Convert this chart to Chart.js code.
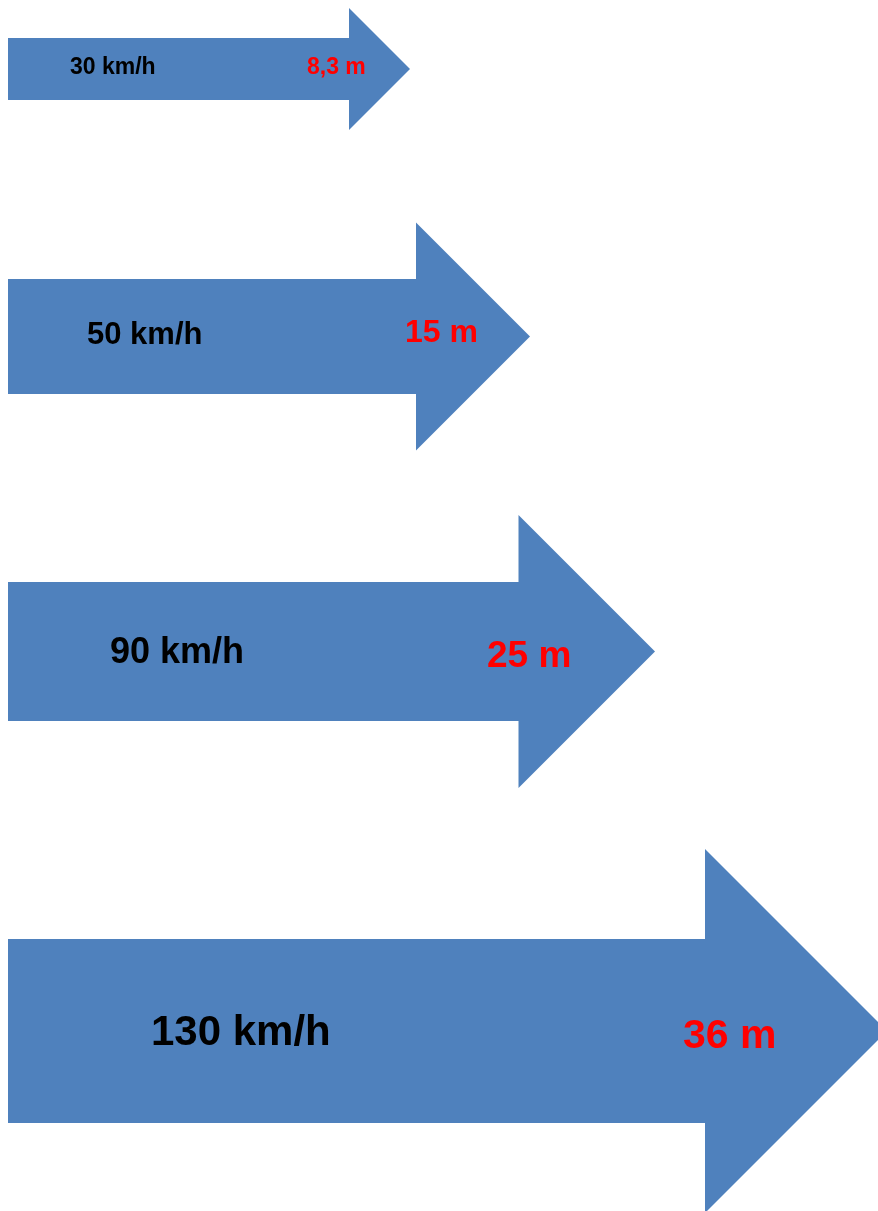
<!DOCTYPE html>
<html>
<head>
<meta charset="utf-8">
<script src="https://cdn.jsdelivr.net/npm/chart.js@4/dist/chart.umd.min.js"></script>
<style>
    body { margin: 0; background: #fff; }
    canvas { display: block; }
</style>
</head>
<body>
<canvas id="arrows" width="878" height="1211"></canvas>
<script>
// speed and stopping distance for each arrow
const speeds = [30, 50, 90, 130];
const distances = [8.3, 15, 25, 36];
// arrow length (arbitrary units)
const arrowLength = [402, 522, 647, 879];

// layout of the rows (y scale units, same as pixels here)
const rowCenter = [69, 336.5, 651.5, 1031];
const shaftHalf = [31, 57.5, 69.5, 92];
const headHalf = [61, 114, 136.5, 182];
const fontSize = [[23, 23], [31, 32], [36, 37], [42, 41]];
const speedTextX = [70, 87, 110, 151];
const distTextX = [307, 405, 487, 683];
const speedBase = [5, 7.5, 11.5, 14];
const distBase = [5, 5.5, 15.5, 17];

const blue = '#4F81BD';

function fmt(n) {
    return String(n).replace('.', ',');
}

const arrowPlugin = {
    id: 'arrowPlugin',
    afterDatasetsDraw(chart) {
        const ctx = chart.ctx;
        const meta = chart.getDatasetMeta(0);
        meta.data.forEach(function (bar, i) {
            const x0 = bar.base;
            const tip = bar.x;
            const yc = bar.y;
            const sh = shaftHalf[i];
            const hh = headHalf[i];
            const hb = tip - hh;

            ctx.save();
            ctx.fillStyle = blue;
            ctx.beginPath();
            ctx.moveTo(x0, yc - sh);
            ctx.lineTo(hb, yc - sh);
            ctx.lineTo(hb, yc - hh);
            ctx.lineTo(tip, yc);
            ctx.lineTo(hb, yc + hh);
            ctx.lineTo(hb, yc + sh);
            ctx.lineTo(x0, yc + sh);
            ctx.closePath();
            ctx.fill();

            ctx.textBaseline = 'alphabetic';
            ctx.textAlign = 'left';
            ctx.font = 'bold ' + fontSize[i][0] + 'px "Liberation Sans", Arial, sans-serif';
            ctx.fillStyle = '#000000';
            ctx.fillText(speeds[i] + ' km/h', speedTextX[i], yc + speedBase[i]);

            ctx.font = 'bold ' + fontSize[i][1] + 'px "Liberation Sans", Arial, sans-serif';
            ctx.fillStyle = '#FF0000';
            ctx.fillText(fmt(distances[i]) + ' m', distTextX[i], yc + distBase[i]);
            ctx.restore();
        });
    }
};

const ctx = document.getElementById('arrows');
const chart = new Chart(ctx, {
    type: 'bar',
    data: {
        labels: speeds.map(s => s + ' km/h'),
        datasets: [{
            data: arrowLength.map((v, i) => ({ x: v, y: rowCenter[i] })),
            backgroundColor: 'rgba(0,0,0,0)',
            borderWidth: 0
        }]
    },
    options: {
        indexAxis: 'y',
        responsive: false,
        devicePixelRatio: 1,
        animation: false,
        layout: { padding: { left: 8, right: 0, top: 0, bottom: 0 } },
        scales: {
            x: { type: 'linear', min: 0, max: 870, display: false, offset: false },
            y: { type: 'linear', min: 0, max: 1211, reverse: true, display: false, offset: false }
        },
        plugins: {
            legend: { display: false },
            tooltip: { enabled: false }
        }
    },
    plugins: [arrowPlugin]
});
</script>
</body>
</html>
